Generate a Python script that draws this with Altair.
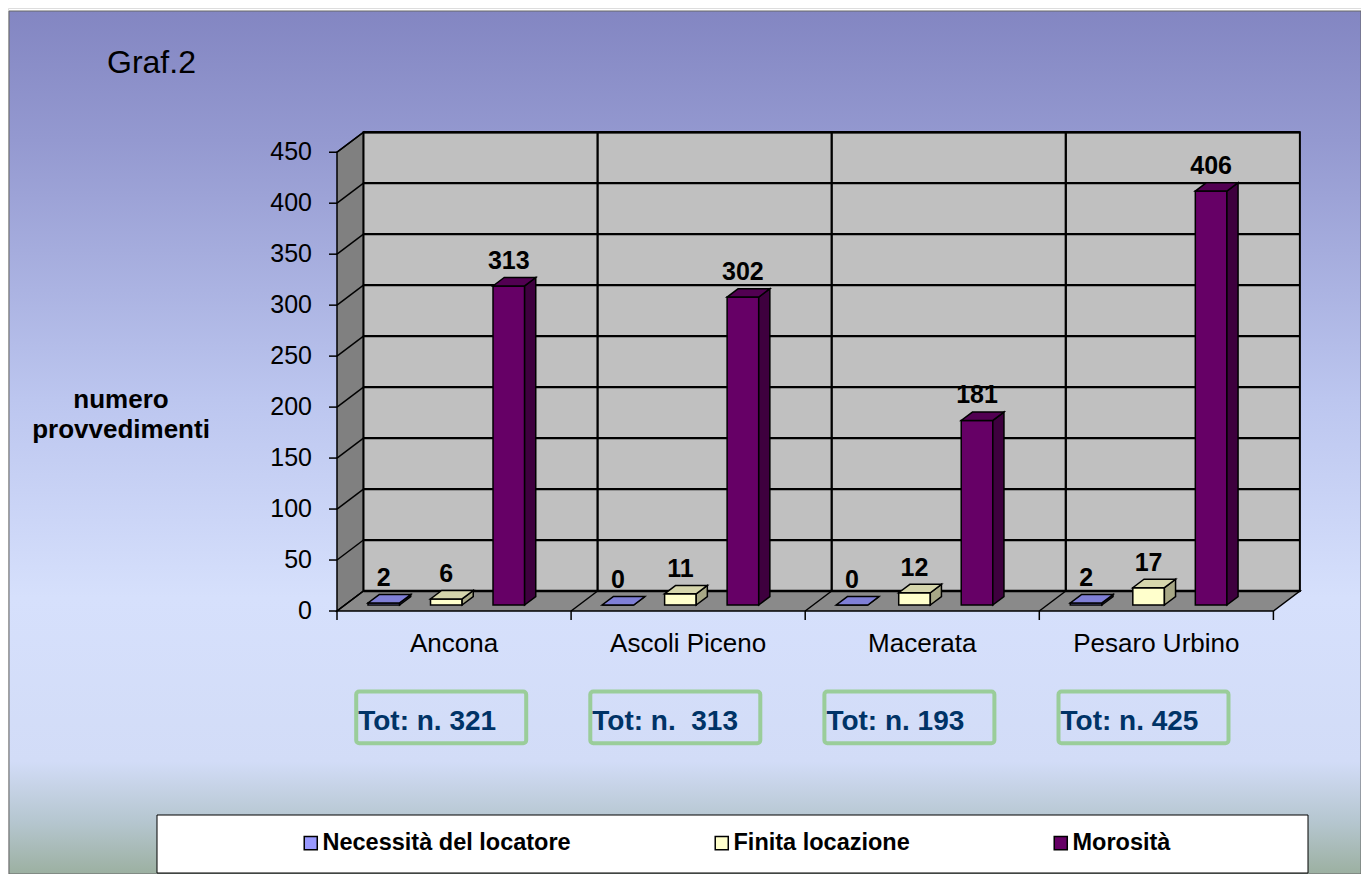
import altair as alt
import pandas as pd

# ---------------- data ----------------
categories = ["Ancona", "Ascoli Piceno", "Macerata", "Pesaro Urbino"]
series = ["Necessità del locatore", "Finita locazione", "Morosità"]
necessita = [2, 0, 0, 2]
finita = [6, 11, 12, 17]
morosita = [313, 302, 181, 406]
y_ticks = [0, 50, 100, 150, 200, 250, 300, 350, 400, 450]
total_labels = ["Tot: n. 321", "Tot: n.\u00a0 313", "Tot: n. 193", "Tot: n. 425"]
axis_title = ["numero", "provvedimenti"]
chart_label = "Graf.2"

# ---------------- styles ----------------
front_colors = ["#9999FF", "#FFFFCC", "#660066"]
top_colors = ["#7F7FD6", "#D6D6AC", "#520052"]
side_colors = ["#5F5FA0", "#A8A886", "#3E003E"]
FONT = "Liberation Sans"

# ---------------- layout (pixels -> data units) ----------------
W, H = 1353, 866
PX_CAT = 234.1          # px per category on the front edge
PX_VAL = 1.0195         # px per value unit
FRONT_X = 329           # canvas x of the front-left corner
ZERO_Y = 603            # canvas y of value 0 on the front edge
DXU = 26.5 / PX_CAT     # depth shift (x) in category units
DYV = 20 / PX_VAL       # depth shift (y) in value units
D1, D2 = 0.3, 0.72      # bar front/back depth fractions
OFFS = [0.166, 0.433, 0.70]
BW = 0.135
NCAT = len(categories)
VMAX = y_ticks[-1]


def ux(px):  # canvas px -> x units
    return (px - FRONT_X) / PX_CAT


def uy(py):  # canvas px -> value units
    return (ZERO_Y - py) / PX_VAL


xs = alt.Scale(domain=[ux(0), ux(W)], nice=False, zero=False)
ys = alt.Scale(domain=[uy(H), uy(0)], nice=False, zero=False)


def X(f):
    return alt.X(f, scale=xs, axis=None)


def Y(f):
    return alt.Y(f, scale=ys, axis=None)


# ---------------- derived tables ----------------
front_rows, top_rows, side_rows = [], [], []
for si, vals in enumerate([necessita, finita, morosita]):
    for ci, v in enumerate(vals):
        bid = f"{si}-{ci}"
        xl = ci + OFFS[si] - BW / 2
        xr = xl + BW
        front_rows.append(dict(bar=bid, series=series[si], v=v,
                               fx=xl + D1 * DXU, fx2=xr + D1 * DXU,
                               fy=D1 * DYV, fy2=v + D1 * DYV,
                               lx=(xl + xr) / 2 + D1 * DXU, ly=v + D1 * DYV))
        for d in (D1, D2):
            top_rows.append(dict(bar=bid, col=top_colors[si], ty=v + d * DYV,
                                 tx=xl + d * DXU, tx2=xr + d * DXU))
            side_rows.append(dict(bar=bid, col=side_colors[si], sx=xr + d * DXU,
                                  sy=d * DYV, sy2=v + d * DYV))
front_df = pd.DataFrame(front_rows)
top_df = pd.DataFrame(top_rows)
side_df = pd.DataFrame(side_rows)

# background gradient frame
bg_df = pd.DataFrame({"x": [ux(1)], "x2": [ux(W)], "y": [uy(3)], "y2": [uy(H)]})
bg = alt.Chart(bg_df).mark_rect(
    fill={"gradient": "linear", "x1": 0, "y1": 0, "x2": 0, "y2": 1,
          "stops": [{"offset": 0.0, "color": "#8386C2"},
                    {"offset": 0.15, "color": "#9499D0"},
                    {"offset": 0.45, "color": "#BCC6EF"},
                    {"offset": 0.68, "color": "#D6E0FC"},
                    {"offset": 0.87, "color": "#D2DCF7"},
                    {"offset": 0.94, "color": "#B5C6CF"},
                    {"offset": 1.0, "color": "#9CB0A1"}]},
    stroke="#666666", strokeWidth=1
).encode(x=X("x:Q"), x2="x2:Q", y=Y("y:Q"), y2="y2:Q")

# back wall
back_df = pd.DataFrame({"x": [DXU], "x2": [NCAT + DXU], "y": [DYV], "y2": [VMAX + DYV]})
back = alt.Chart(back_df).mark_rect(fill="#C0C0C0", stroke="black", strokeWidth=2).encode(
    x=X("x:Q"), x2="x2:Q", y=Y("y:Q"), y2="y2:Q")

# side wall
sw_df = pd.DataFrame({"x": [0, DXU], "y": [0, DYV], "y2": [VMAX, VMAX + DYV]})
side_wall = alt.Chart(sw_df).mark_area(orient="vertical", fill="#808080", stroke="black",
                                       strokeWidth=1.5).encode(
    x=X("x:Q"), y=alt.Y("y:Q", scale=ys, axis=None, stack=None), y2="y2:Q")

# floor
fl_df = pd.DataFrame({"y": [0, DYV], "x": [0, DXU], "x2": [NCAT, NCAT + DXU]})
floor = alt.Chart(fl_df).mark_area(orient="horizontal", fill="#8A8A8A", stroke="black",
                                   strokeWidth=1.5).encode(
    y=Y("y:Q"), x=alt.X("x:Q", scale=xs, axis=None, stack=None), x2="x2:Q")

# grid lines and ticks
rules = []
for v in y_ticks:
    rules.append(dict(x=DXU, x2=NCAT + DXU, y=v + DYV, y2=v + DYV, w="back"))
    rules.append(dict(x=0, x2=DXU, y=v, y2=v + DYV, w="side"))
    rules.append(dict(x=ux(FRONT_X - 8), x2=0, y=v, y2=v, w="side"))
for i in range(1, NCAT):
    rules.append(dict(x=i + DXU, x2=i + DXU, y=DYV, y2=VMAX + DYV, w="back"))
    rules.append(dict(x=i, x2=i + DXU, y=0, y2=DYV, w="side"))
for i in range(NCAT + 1):
    rules.append(dict(x=i, x2=i, y=0, y2=-9 / PX_VAL, w="side"))
rules_df = pd.DataFrame(rules)
back_rules = alt.Chart(rules_df[rules_df.w == "back"]).mark_rule(color="black", strokeWidth=2.3).encode(
    x=X("x:Q"), x2="x2:Q", y=Y("y:Q"), y2="y2:Q")
side_rules = alt.Chart(rules_df[rules_df.w == "side"]).mark_rule(color="black", strokeWidth=1.5).encode(
    x=X("x:Q"), x2="x2:Q", y=Y("y:Q"), y2="y2:Q")

# value-axis labels and title, category labels
ytick_df = pd.DataFrame({"v": y_ticks, "x": [0] * len(y_ticks)})
ylabels = alt.Chart(ytick_df).mark_text(font=FONT, fontSize=25, color="black", align="right",
                                       baseline="middle", dx=-25).encode(
    x=X("x:Q"), y=Y("v:Q"), text="v:Q")
ytitle_df = pd.DataFrame({"t": axis_title, "x": [ux(113)] * 2,
                          "y": [uy(400), uy(430)]})
ytitle = alt.Chart(ytitle_df).mark_text(font=FONT, fontSize=26, fontWeight="bold", color="black",
                                       align="center", baseline="alphabetic").encode(
    x=X("x:Q"), y=Y("y:Q"), text="t:N")
cat_df = pd.DataFrame({"c": categories, "x": [i + 0.5 for i in range(NCAT)], "y": [0] * NCAT})
xlabels = alt.Chart(cat_df).mark_text(font=FONT, fontSize=26, color="black", align="center",
                                     baseline="alphabetic", dy=41).encode(
    x=X("x:Q"), y=Y("y:Q"), text="c:N")

# bars
front = alt.Chart(front_df).mark_rect(stroke="black", strokeWidth=1.5).encode(
    x=X("fx:Q"), x2="fx2:Q", y=Y("fy:Q"), y2="fy2:Q",
    color=alt.Color("series:N", scale=alt.Scale(domain=series, range=front_colors),
                    legend=alt.Legend(orient="none", legendX=291, legendY=823,
                                      direction="horizontal", title=None, symbolType="square",
                                      symbolSize=170, symbolStrokeColor="black",
                                      symbolStrokeWidth=1.5, symbolOpacity=1,
                                      labelFont=FONT, labelFontSize=23.5, labelFontWeight="bold",
                                      labelColor="black", labelOffset=0, labelLimit=500,
                                      columnPadding=139, padding=0)),
)
tops = alt.Chart(top_df).mark_area(orient="horizontal", stroke="black", strokeWidth=1.5).encode(
    y=Y("ty:Q"), x=alt.X("tx:Q", scale=xs, axis=None, stack=None), x2="tx2:Q",
    detail="bar:N", fill=alt.Fill("col:N", scale=None))
sides = alt.Chart(side_df).mark_area(orient="vertical", stroke="black", strokeWidth=1.5).encode(
    x=X("sx:Q"), y=alt.Y("sy:Q", scale=ys, axis=None, stack=None), y2="sy2:Q",
    detail="bar:N", fill=alt.Fill("col:N", scale=None))

labels = alt.Chart(front_df).mark_text(font=FONT, fontSize=25, fontWeight="bold", color="black",
                                      baseline="alphabetic", align="center", dy=-17).encode(
    x=X("lx:Q"), y=Y("ly:Q"), text="v:Q")

# total boxes
BOX_W = 170 / PX_CAT
tot_df = pd.DataFrame({"t": total_labels,
                       "bx": [i + 0.082 for i in range(NCAT)],
                       "bx2": [i + 0.082 + BOX_W for i in range(NCAT)],
                       "by": [-79.0] * NCAT, "by2": [-129.8] * NCAT,
                       "ty": [-116.7] * NCAT})
tot_box = alt.Chart(tot_df).mark_rect(fillOpacity=0, stroke="#9ACD9A", strokeWidth=4,
                                      cornerRadius=3).encode(
    x=X("bx:Q"), x2="bx2:Q", y=Y("by:Q"), y2="by2:Q")
tot_txt = alt.Chart(tot_df).mark_text(font=FONT, fontSize=28, fontWeight="bold", color="#003366",
                                      align="left", baseline="alphabetic", dx=2).encode(
    x=X("bx:Q"), y=Y("ty:Q"), text="t:N")

# legend frame and chart label
lb_df = pd.DataFrame({"x": [ux(149)], "x2": [ux(1300)], "y": [uy(807)], "y2": [uy(865)]})
legend_box = alt.Chart(lb_df).mark_rect(fill="white", stroke="black", strokeWidth=1).encode(
    x=X("x:Q"), x2="x2:Q", y=Y("y:Q"), y2="y2:Q")
g_df = pd.DataFrame({"x": [ux(99)], "y": [uy(65)], "t": [chart_label]})
graf = alt.Chart(g_df).mark_text(font=FONT, fontSize=32, color="black",
                                 align="left", baseline="alphabetic").encode(
    x=X("x:Q"), y=Y("y:Q"), text="t:N")

chart = alt.layer(
    bg, side_wall, floor, back, back_rules, side_rules, ylabels, ytitle, xlabels,
    front, sides, tops, labels, tot_box, tot_txt, legend_box, graf
).properties(width=W, height=H, autosize="none", padding=0, background="white"
).configure_view(stroke=None).configure(font=FONT)

chart.save("out.html", embed_options={"renderer": "svg", "actions": False})
